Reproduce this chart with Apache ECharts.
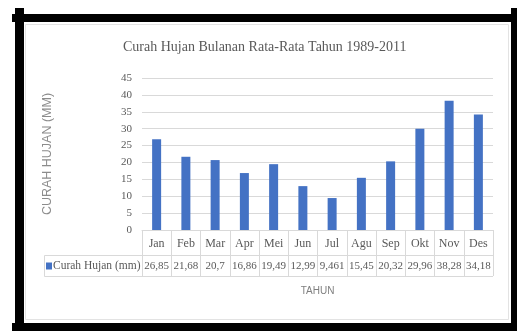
<!DOCTYPE html>
<html>
<head>
<meta charset="utf-8">
<script src="https://cdn.jsdelivr.net/npm/echarts@6/dist/echarts.min.js"></script>
<style>html,body{margin:0;padding:0;background:#fff;}#c{width:517px;height:331px;}</style>
</head>
<body>
<div id="c"></div>
<script>
const months = ['Jan','Feb','Mar','Apr','Mei','Jun','Jul','Agu','Sep','Okt','Nov','Des'];
const rainfall = [26.85, 21.68, 20.7, 16.86, 19.49, 12.99, 9.461, 15.45, 20.32, 29.96, 38.28, 34.18];
const seriesName = 'Curah Hujan (mm)';
const titleText = 'Curah Hujan Bulanan Rata-Rata Tahun 1989-2011';
const yAxisTitle = 'CURAH HUJAN (MM)';
const xAxisTitle = 'TAHUN';

const serif = '"Liberation Serif", "DejaVu Serif", serif';
const sans = '"Liberation Sans", "DejaVu Sans", sans-serif';
const txt = '#595959';
const lineC = '#d9d9d9';
const fmt = v => String(v).replace('.', ',');

const chart = echarts.init(document.getElementById('c'));
chart.setOption({
  backgroundColor: '#fff',
  animation: false,
  title: {
    text: titleText, left: 123, top: 40, padding: 0,
    textStyle: { fontFamily: serif, fontSize: 14, fontWeight: 'normal', color: txt }
  },
  legend: {
    data: [seriesName], left: 46, top: 260, padding: 0,
    icon: 'rect', itemWidth: 6, itemHeight: 7,
    textStyle: { fontFamily: serif, fontSize: 11.5, color: txt, padding: [0,0,0,-4] }
  },
  grid: { left: 142, right: 24, top: 78, bottom: 101 },
  xAxis: {
    type: 'category', data: months,
    axisLine: { show: true, lineStyle: { color: lineC } },
    axisTick: { show: true, length: 46, lineStyle: { color: lineC } },
    axisLabel: {
      margin: 2, interval: 0,
      formatter: (v, i) => '{m|' + v + '}\n{v|' + fmt(rainfall[i]) + '}',
      rich: {
        m: { fontFamily: serif, fontSize: 12, color: txt, lineHeight: 23 },
        v: { fontFamily: serif, fontSize: 11, color: txt, lineHeight: 23 }
      }
    },
    name: xAxisTitle, nameLocation: 'middle', nameGap: 56,
    nameTextStyle: { fontFamily: sans, fontSize: 10, color: '#7f7f7f' }
  },
  yAxis: {
    type: 'value', min: 0, max: 45, interval: 5,
    axisLine: { show: false }, axisTick: { show: false },
    splitLine: { lineStyle: { color: lineC } },
    axisLabel: { fontFamily: serif, fontSize: 11, color: txt, margin: 10 },
    name: yAxisTitle, nameLocation: 'middle', nameRotate: 90, nameGap: 88,
    nameTextStyle: { fontFamily: sans, fontSize: 12.5, color: '#8c8c8c' }
  },
  series: [{
    name: seriesName, type: 'bar', data: rainfall, barWidth: 9,
    itemStyle: { color: '#4472c4' }
  }],
  graphic: [
    { type: 'rect', shape: { x: 25.5, y: 24.5, width: 483, height: 295 }, style: { fill: 'none', stroke: '#e3e3e3', lineWidth: 1 }, z: 0 },
    { type: 'line', shape: { x1: 44.5, y1: 255.5, x2: 493, y2: 255.5 }, style: { stroke: lineC, lineWidth: 1 } },
    { type: 'line', shape: { x1: 44.5, y1: 276.5, x2: 493, y2: 276.5 }, style: { stroke: lineC, lineWidth: 1 } },
    { type: 'line', shape: { x1: 44.5, y1: 255.5, x2: 44.5, y2: 276.5 }, style: { stroke: lineC, lineWidth: 1 } },
    { type: 'rect', shape: { x: 12, y: 14, width: 505, height: 8 }, style: { fill: '#000' }, z: 10 },
    { type: 'rect', shape: { x: 15, y: 8, width: 9, height: 323 }, style: { fill: '#000' }, z: 10 },
    { type: 'rect', shape: { x: 511, y: 8, width: 6, height: 323 }, style: { fill: '#000' }, z: 10 },
    { type: 'rect', shape: { x: 12, y: 323, width: 505, height: 8 }, style: { fill: '#000' }, z: 10 }
  ]
});
</script>
</body>
</html>
